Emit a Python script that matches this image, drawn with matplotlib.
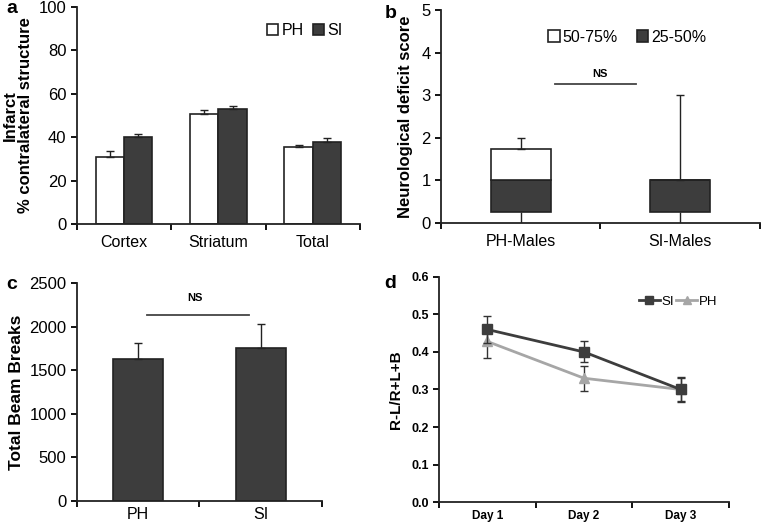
import matplotlib
matplotlib.use("Agg")
import matplotlib.pyplot as plt
from matplotlib.lines import Line2D
import numpy as np

plt.rcParams["font.family"] = ["Liberation Sans", "DejaVu Sans"]

DARK = "#3d3d3d"
LIGHT = "#a6a6a6"

# --- panel a: infarct ---
a_regions = ["Cortex", "Striatum", "Total"]
a_ph = [31.0, 50.5, 35.5]
a_ph_err = [2.5, 2.0, 0.7]
a_si = [40.0, 53.0, 38.0]
a_si_err = [1.5, 1.5, 1.5]

# --- panel b: neurological deficit score (box summaries) ---
b_groups = ["PH-Males", "SI-Males"]
b_min = [0.0, 0.0]
b_q1 = [0.25, 0.25]
b_median = [1.0, 1.0]
b_q3 = [1.75, 1.0]
b_max = [2.0, 3.0]

# --- panel c: beam breaks ---
c_groups = ["PH", "SI"]
c_vals = [1630, 1750]
c_err = [180, 280]

# --- panel d: R-L/R+L+B ---
d_days = ["Day 1", "Day 2", "Day 3"]
d_si = [0.46, 0.40, 0.30]
d_si_err = [0.035, 0.028, 0.03]
d_ph = [0.428, 0.33, 0.30]
d_ph_err = [0.045, 0.033, 0.033]


def style(ax, n):
    for s in ("top", "right"):
        ax.spines[s].set_visible(False)
    for s in ("left", "bottom"):
        ax.spines[s].set_linewidth(1.3)
        ax.spines[s].set_color("#222222")
    ax.set_xlim(-0.5, n - 0.5)
    ax.set_xticks(range(n))
    ax.tick_params(axis="x", length=0, pad=8)
    ax.set_xticks(np.arange(n + 1) - 0.5, minor=True)
    ax.tick_params(axis="x", which="minor", length=4, width=1.3, direction="out")
    ax.tick_params(axis="y", length=4, width=1.3, direction="out")


fig = plt.figure(figsize=(7.61, 5.25), dpi=100)

# a
ax = fig.add_axes([0.101, 0.573, 0.372, 0.414])
x = np.arange(len(a_regions))
w = 0.3
ax.bar(x - w / 2, a_ph, w, color="white", edgecolor="#222222", lw=1.2, label="PH",
       yerr=[[0] * 3, a_ph_err], error_kw=dict(capsize=3, elinewidth=1, ecolor="#222222"))
ax.bar(x + w / 2, a_si, w, color=DARK, edgecolor="#222222", lw=1.2, label="SI",
       yerr=[[0] * 3, a_si_err], error_kw=dict(capsize=3, elinewidth=1, ecolor="#222222"))
style(ax, 3)
ax.set_xticklabels(a_regions, fontsize=11.5)
ax.set_ylim(0, 100)
ax.set_yticks(range(0, 101, 20))
ax.tick_params(axis="y", labelsize=12)
ax.set_ylabel("Infarct\n% contralateral structure", fontsize=12, fontweight="bold",
              labelpad=4, linespacing=1.0)
ax.legend(loc="upper right", bbox_to_anchor=(0.99, 0.99), frameon=False, fontsize=11.5,
          ncol=2, handlelength=0.7, handleheight=0.7, handletextpad=0.2, columnspacing=0.6)
fig.text(0.009, 0.976, "a", fontsize=14, fontweight="bold")

# b
ax = fig.add_axes([0.5795, 0.575, 0.419, 0.406])
x = np.arange(len(b_groups))
w = 0.375
lo = np.array(b_median) - np.array(b_q1)
hi = np.array(b_q3) - np.array(b_median)
ax.bar(x, lo, w, bottom=b_q1, color=DARK, edgecolor="#222222", lw=1.2, label="25-50%")
ax.bar(x, hi, w, bottom=b_median, color="white", edgecolor="#222222", lw=1.2, label="50-75%")
ax.errorbar(x, b_q3, yerr=[[0, 0], np.array(b_max) - np.array(b_q3)], fmt="none",
            ecolor="#222222", elinewidth=1, capsize=3)
ax.errorbar(x, b_q1, yerr=[np.array(b_q1) - np.array(b_min), [0, 0]], fmt="none",
            ecolor="#222222", elinewidth=1, capsize=0)
style(ax, 2)
ax.set_xticklabels(b_groups, fontsize=11.5)
ax.set_ylim(0, 5)
ax.tick_params(axis="y", labelsize=12)
ax.set_ylabel("Neurological deficit score", fontsize=12, fontweight="bold", labelpad=6)
h, l = ax.get_legend_handles_labels()
ax.legend(h[::-1], l[::-1], loc="upper center", bbox_to_anchor=(0.585, 0.975), frameon=False,
          fontsize=11.5, ncol=2, handlelength=0.7, handleheight=0.7, handletextpad=0.2,
          columnspacing=1.2)
ax.plot([0.215, 0.722], [3.27, 3.27], color="#444444", lw=1.3)
ax.text(0.497, 3.5, "NS", ha="center", va="center", fontsize=8, fontweight="bold")
fig.text(0.505, 0.966, "b", fontsize=14, fontweight="bold")

# c
ax = fig.add_axes([0.101, 0.0457, 0.322, 0.415])
x = np.arange(len(c_groups))
ax.bar(x, c_vals, 0.41, color=DARK, edgecolor="#222222", lw=1.2,
       yerr=[[0, 0], c_err], error_kw=dict(capsize=3, elinewidth=1, ecolor="#222222"))
style(ax, 2)
ax.tick_params(axis="x", pad=4)
ax.set_xticklabels(c_groups, fontsize=11.5)
ax.set_ylim(0, 2500)
ax.set_yticks(range(0, 2501, 500))
ax.tick_params(axis="y", labelsize=12)
ax.set_ylabel("Total Beam Breaks", fontsize=12.5, fontweight="bold", labelpad=4)
ax.plot([0.07, 0.904], [2130, 2130], color="#444444", lw=1.3)
ax.text(0.463, 2330, "NS", ha="center", va="center", fontsize=8, fontweight="bold")
fig.text(0.008, 0.45, "c", fontsize=14, fontweight="bold")

# d
ax = fig.add_axes([0.577, 0.0438, 0.381, 0.4286])
x = np.arange(len(d_days))
ax.errorbar(x, d_ph, yerr=d_ph_err, color=LIGHT, lw=2, marker="^", ms=7,
            capsize=3, elinewidth=1, ecolor="#333333", zorder=2)
ax.errorbar(x, d_si, yerr=d_si_err, color=DARK, lw=2, marker="s", ms=7,
            capsize=3, elinewidth=1, ecolor="#333333", zorder=3)
style(ax, 3)
ax.tick_params(axis="x", pad=6)
ax.set_xticklabels(d_days, fontsize=8.5, fontweight="bold")
ax.set_ylim(0, 0.6)
ax.set_yticks(np.arange(0, 0.61, 0.1))
ax.set_yticklabels([f"{v:.1f}" for v in np.arange(0, 0.61, 0.1)], fontsize=9, fontweight="bold")
ax.set_ylabel("R-L/R+L+B", fontsize=11, fontweight="bold", labelpad=6)
handles = [Line2D([], [], color=DARK, lw=2, marker="s", ms=6),
           Line2D([], [], color=LIGHT, lw=2, marker="^", ms=6)]
ax.legend(handles, ["SI", "PH"], loc="upper right", bbox_to_anchor=(1.0, 0.97), frameon=False,
          fontsize=9.5, ncol=2, handlelength=1.6, handletextpad=0.1, columnspacing=0.2)
fig.text(0.505, 0.452, "d", fontsize=14, fontweight="bold")

fig.savefig("out.png", dpi=100)
